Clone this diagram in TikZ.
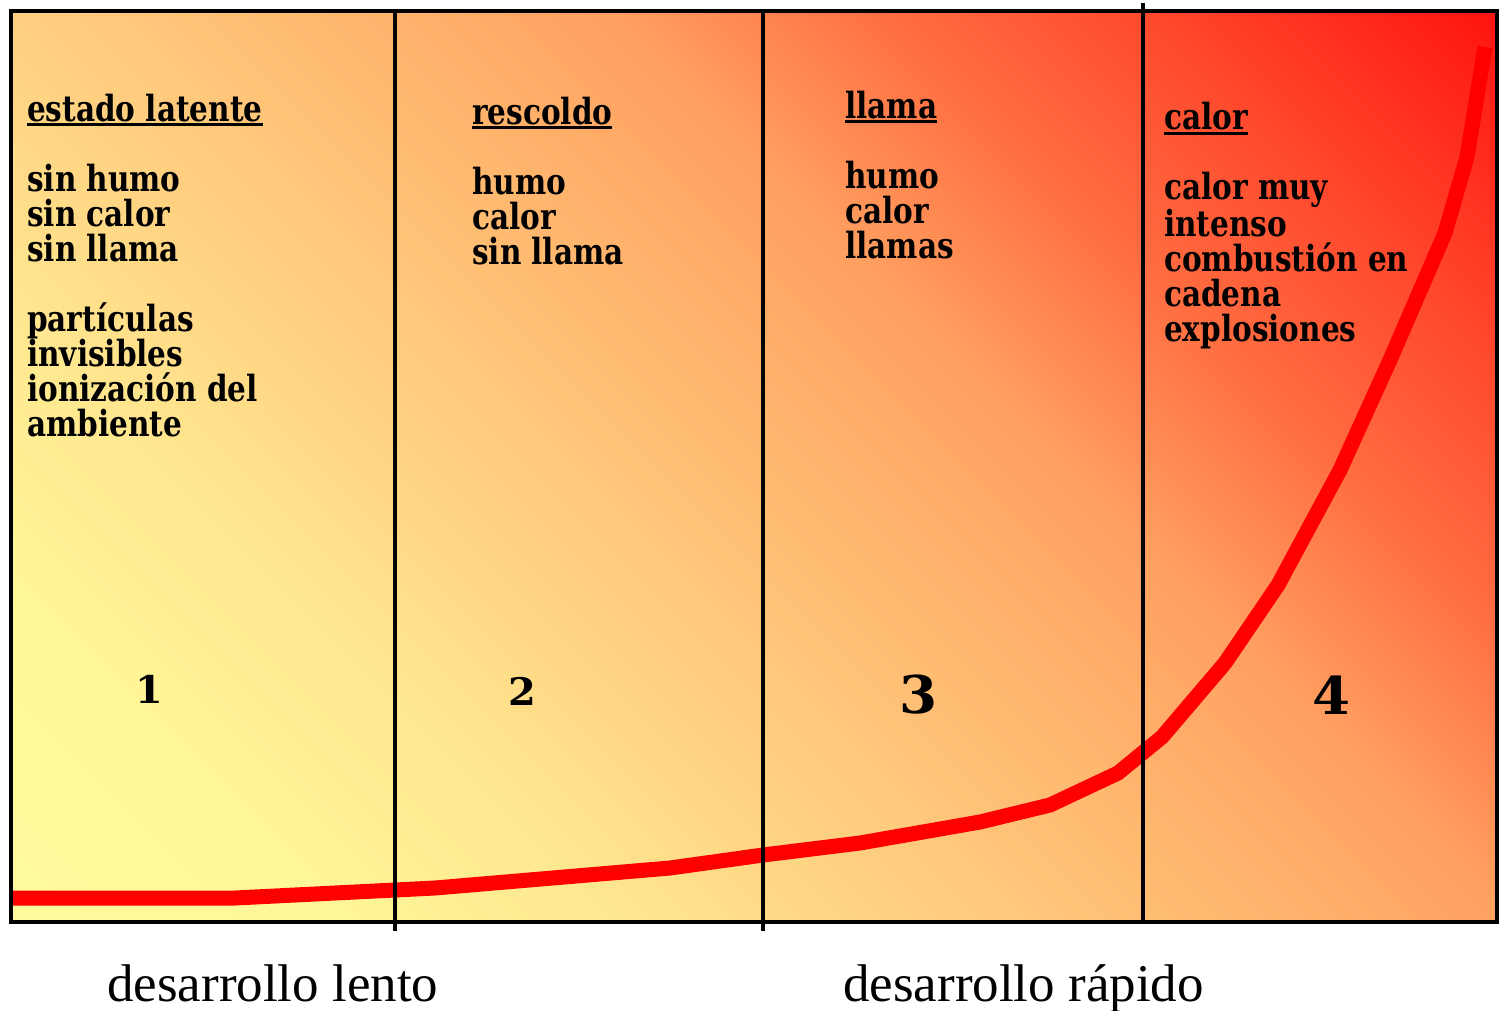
\documentclass[tikz,border=0pt]{standalone}
\usepackage{fontspec}
\newfontfamily\bfont[FakeStretch=0.82]{DejaVu Serif Bold}
\newfontfamily\nfont[FakeStretch=1.05]{DejaVu Serif Bold}
\newfontfamily\lfont{Liberation Serif}
\newcommand\ulw[1]{\setbox0\hbox{#1}\rlap{\rule[-5pt]{\wd0}{2.6pt}}\box0}
\definecolor{g0}{RGB}{255,250,156}
\definecolor{g1}{RGB}{255,248,152}
\definecolor{g2}{RGB}{255,232,144}
\definecolor{g3}{RGB}{255,208,128}
\definecolor{g4}{RGB}{255,186,112}
\definecolor{g5}{RGB}{255,160,96}
\definecolor{g6}{RGB}{255,108,64}
\definecolor{g7}{RGB}{255,64,40}
\definecolor{g8}{RGB}{255,20,16}
\pgfdeclareverticalshading{fireshade}{100bp}{color(0bp)=(g0); color(14.64bp)=(g0);
  color(23.5bp)=(g1); color(32.3bp)=(g2); color(41.2bp)=(g3); color(50bp)=(g4);
  color(59.2bp)=(g5); color(67.7bp)=(g6); color(76.9bp)=(g7); color(85.36bp)=(g8);
  color(100bp)=(g8)}
\tikzset{
  coltext/.style={anchor=base west, align=left, inner sep=0pt,
    font=\bfont\fontsize{36}{35}\selectfont},
  numtext/.style={anchor=base, inner sep=0pt, font=\nfont\fontsize{38}{38}\selectfont},
  bignum/.style={anchor=base, inner sep=0pt, font=\nfont\fontsize{52}{52}\selectfont},
  bottomtext/.style={anchor=base west, inner sep=0pt, font=\lfont\fontsize{53}{53}\selectfont},
  divider/.style={line width=3.2pt, black},
  curve/.style={line width=15pt, red, line join=miter},
}
\begin{document}
\begin{tikzpicture}[x=1pt,y=-1pt]
\useasboundingbox (0,0) rectangle (1499,1010);
\shade[shading=fireshade, shading angle=-45] (11,11) rectangle (1497,922);
% curve
\coordinate (c0) at (11,898);
\draw[curve] (c0) -- (235,898) -- (435,888) -- (670,868) -- (763,855) -- (860,843)
  -- (980,822) -- (1050,805) -- (1118,773) -- (1162,737) -- (1225,663)
  -- (1278,585) -- (1340,470) -- (1390,360) -- (1445,233) -- (1467,157) -- (1485,47);
% frame and dividers
\draw[divider] (11,11) rectangle (1497,922);
\coordinate (d1t) at (395,11); \coordinate (d1b) at (395,931);
\coordinate (d2t) at (763,11); \coordinate (d2b) at (763,931);
\coordinate (d3t) at (1143,3); \coordinate (d3b) at (1143,922);
\draw[divider] (d1t) -- (d1b);
\draw[divider] (d2t) -- (d2b);
\draw[divider] (d3t) -- (d3b);
% column texts (anchored at the baseline of the last line)
\node[coltext] (t1) at (27,436) {\ulw{estado latente}\\[35pt] sin humo\\ sin calor\\ sin llama\\[35pt] partículas\\ invisibles\\ ionización del\\ ambiente};
\node[coltext] (t2) at (472,264) {\ulw{rescoldo}\\[35pt] humo\\ calor\\ sin llama};
\node[coltext] (t3) at (845,258) {\ulw{llama}\\[35pt] humo\\ calor\\ llamas};
\node[coltext] (t4) at (1164,341) {\ulw{calor}\\[35pt] calor muy\\ intenso\\ combustión en\\ cadena\\ explosiones};
% numbers
\node[numtext] (n1) at (149,703) {1};
\node[numtext] (n2) at (522,705) {2};
\node[bignum] (n3) at (918,713) {3};
\node[bignum] (n4) at (1331,714) {4};
% bottom labels
\node[bottomtext] (b1) at (107,1001) {desarrollo lento};
\node[bottomtext] (b2) at (843,1001) {desarrollo rápido};
\end{tikzpicture}
\end{document}
